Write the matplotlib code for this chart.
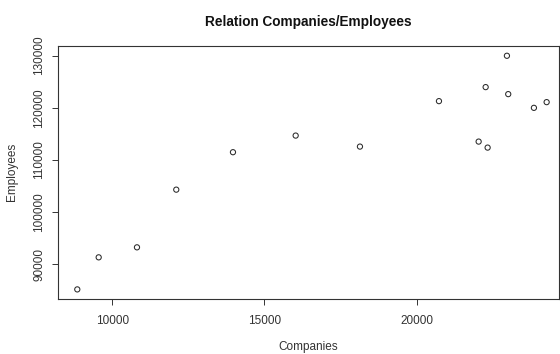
import matplotlib
matplotlib.use("Agg")
import matplotlib.pyplot as plt

plt.rcParams['font.family'] = ['Liberation Sans', 'DejaVu Sans']

# Number of companies and number of employees per observation
companies = [8850, 9553, 10811, 12102, 13965, 16025, 18137, 20733,
             22037, 22267, 22332, 22966, 23009, 23853, 24271]
employees = [85200, 91344, 93263, 104319, 111497, 114683, 112572, 121286,
             113532, 123973, 112380, 129981, 122630, 120000, 121094]

x_ticks = [10000, 15000, 20000]
y_ticks = [90000, 100000, 110000, 120000, 130000]

fig = plt.figure(figsize=(5.6, 3.54), dpi=100)
ax = fig.add_axes([0.1041, 0.1545, 0.894, 0.7155])

ax.scatter(companies, employees, s=14, facecolors='none',
           edgecolors='#2a2a2a', linewidths=0.75)

ax.set_xlim(8226, 24675)
ax.set_ylim(83300, 131850)
ax.set_xticks(x_ticks)
ax.set_xticklabels([str(v) for v in x_ticks])
ax.set_yticks(y_ticks)
ax.set_yticklabels([str(v) for v in y_ticks], rotation=90, va='center')

ax.tick_params(axis='both', direction='out', length=4.5, width=0.7,
               color='#333333', labelsize=8.5, labelcolor='#333333')
ax.tick_params(axis='x', pad=6.5)
ax.tick_params(axis='y', pad=5)

for sp in ax.spines.values():
    sp.set_color('#333333')
    sp.set_linewidth(0.8)

ax.set_title('Relation Companies/Employees', fontsize=9.8, fontweight='bold',
             color='#111111', pad=14.5)

ax.set_xlabel('Companies', fontsize=8.5, color='#333333')
ax.xaxis.set_label_coords(0.5, -0.188)
ax.xaxis.label.set_va('center')
ax.set_ylabel('Employees', fontsize=8.5, color='#333333')
ax.yaxis.set_label_coords(-0.093, 0.504)
ax.yaxis.label.set_va('center')

fig.savefig('out.png', dpi=100)
